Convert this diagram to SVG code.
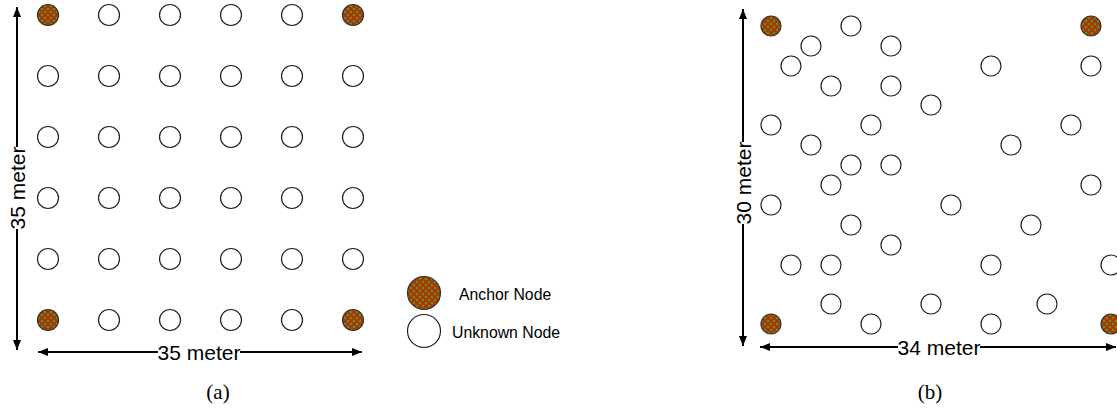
<svg xmlns="http://www.w3.org/2000/svg" width="1117" height="416" viewBox="0 0 1117 416">
<style>
.u{fill:#fff;stroke:#222;stroke-width:1.2}
.a{fill:url(#hatch);stroke:#333;stroke-width:1.2}
.ar{stroke:#000;stroke-width:2;fill:none;marker-start:url(#ah);marker-end:url(#ah)}
.lbl{font-family:"Liberation Sans",Arial,sans-serif;font-size:21px;fill:#000;text-anchor:middle;dominant-baseline:central}
.leg{font-family:"Liberation Sans",Arial,sans-serif;font-size:15.8px;fill:#000}
.cap{font-family:"Liberation Serif","Times New Roman",serif;font-size:21px;fill:#000;text-anchor:middle}
.bg{fill:#fff}
</style>
<defs>
<pattern id="hatch" patternUnits="userSpaceOnUse" width="6" height="6">
<rect width="6" height="6" fill="#7d5c00"/>
<path d="M0,0L6,6M6,0L0,6" stroke="#b52a14" stroke-width="1.1"/>
<circle cx="3" cy="0" r="0.9" fill="#7a9a18"/>
<circle cx="3" cy="6" r="0.9" fill="#7a9a18"/>
<circle cx="0" cy="3" r="0.9" fill="#7a9a18"/>
<circle cx="6" cy="3" r="0.9" fill="#7a9a18"/>
</pattern>
<marker id="ah" markerUnits="userSpaceOnUse" markerWidth="11" markerHeight="9" refX="10" refY="4" orient="auto-start-reverse" viewBox="0 0 11 9">
<path d="M0,0L10,4L0,8z" fill="#000"/>
</marker>
</defs>
<g id="connectors">
<line class="ar" x1="17" y1="350" x2="17" y2="7"/>
<line class="ar" x1="38" y1="352" x2="362" y2="352"/>
<line class="ar" x1="743" y1="346" x2="743" y2="9"/>
<line class="ar" x1="760" y1="347" x2="1116" y2="347"/>
</g>
<g id="labels">
<rect class="bg" x="158" y="340" width="82" height="24"/>
<text class="lbl" x="199" y="352">35 meter</text>
<rect class="bg" x="5" y="147" width="24" height="82"/>
<text class="lbl" transform="rotate(-90 17 188)" x="17" y="188">35 meter</text>
<rect class="bg" x="898" y="335" width="82" height="24"/>
<text class="lbl" x="939" y="347">34 meter</text>
<rect class="bg" x="731" y="142" width="24" height="82"/>
<text class="lbl" transform="rotate(-90 743 183)" x="743" y="183">30 meter</text>
<text class="cap" x="218" y="399">(a)</text>
<text class="cap" x="930" y="399">(b)</text>
</g>
<g id="grid-a">
<g id="a-r1"><circle class="a" cx="48" cy="15" r="10.5"/><circle class="u" cx="109" cy="15" r="10.5"/><circle class="u" cx="170" cy="15" r="10.5"/><circle class="u" cx="231" cy="15" r="10.5"/><circle class="u" cx="292" cy="15" r="10.5"/><circle class="a" cx="353" cy="15" r="10.5"/></g>
<g id="a-r2"><circle class="u" cx="48" cy="76" r="10.5"/><circle class="u" cx="109" cy="76" r="10.5"/><circle class="u" cx="170" cy="76" r="10.5"/><circle class="u" cx="231" cy="76" r="10.5"/><circle class="u" cx="292" cy="76" r="10.5"/><circle class="u" cx="353" cy="76" r="10.5"/></g>
<g id="a-r3"><circle class="u" cx="48" cy="137" r="10.5"/><circle class="u" cx="109" cy="137" r="10.5"/><circle class="u" cx="170" cy="137" r="10.5"/><circle class="u" cx="231" cy="137" r="10.5"/><circle class="u" cx="292" cy="137" r="10.5"/><circle class="u" cx="353" cy="137" r="10.5"/></g>
<g id="a-r4"><circle class="u" cx="48" cy="198" r="10.5"/><circle class="u" cx="109" cy="198" r="10.5"/><circle class="u" cx="170" cy="198" r="10.5"/><circle class="u" cx="231" cy="198" r="10.5"/><circle class="u" cx="292" cy="198" r="10.5"/><circle class="u" cx="353" cy="198" r="10.5"/></g>
<g id="a-r5"><circle class="u" cx="48" cy="259" r="10.5"/><circle class="u" cx="109" cy="259" r="10.5"/><circle class="u" cx="170" cy="259" r="10.5"/><circle class="u" cx="231" cy="259" r="10.5"/><circle class="u" cx="292" cy="259" r="10.5"/><circle class="u" cx="353" cy="259" r="10.5"/></g>
<g id="a-r6"><circle class="a" cx="48" cy="320" r="10.5"/><circle class="u" cx="109" cy="320" r="10.5"/><circle class="u" cx="170" cy="320" r="10.5"/><circle class="u" cx="231" cy="320" r="10.5"/><circle class="u" cx="292" cy="320" r="10.5"/><circle class="a" cx="353" cy="320" r="10.5"/></g>
</g>
<g id="legend">
<g id="legend-anchor"><circle class="a" cx="424" cy="293" r="16.5"/><text class="leg" x="459" y="300">Anchor Node</text></g>
<g id="legend-unknown"><circle class="u" cx="424" cy="331" r="16.5"/><text class="leg" x="452" y="338">Unknown Node</text></g>
</g>
<g id="random-b">
<circle class="a" cx="771" cy="26" r="10"/>
<circle class="u" cx="851" cy="26" r="10"/>
<circle class="a" cx="1091" cy="26" r="10"/>
<circle class="u" cx="811" cy="46" r="10"/>
<circle class="u" cx="891" cy="46" r="10"/>
<circle class="u" cx="791" cy="66" r="10"/>
<circle class="u" cx="991" cy="66" r="10"/>
<circle class="u" cx="1091" cy="66" r="10"/>
<circle class="u" cx="831" cy="86" r="10"/>
<circle class="u" cx="891" cy="86" r="10"/>
<circle class="u" cx="931" cy="105" r="10"/>
<circle class="u" cx="771" cy="125" r="10"/>
<circle class="u" cx="871" cy="125" r="10"/>
<circle class="u" cx="1071" cy="125" r="10"/>
<circle class="u" cx="811" cy="145" r="10"/>
<circle class="u" cx="1011" cy="145" r="10"/>
<circle class="u" cx="851" cy="165" r="10"/>
<circle class="u" cx="891" cy="165" r="10"/>
<circle class="u" cx="831" cy="185" r="10"/>
<circle class="u" cx="1091" cy="185" r="10"/>
<circle class="u" cx="771" cy="205" r="10"/>
<circle class="u" cx="951" cy="205" r="10"/>
<circle class="u" cx="851" cy="225" r="10"/>
<circle class="u" cx="1031" cy="225" r="10"/>
<circle class="u" cx="891" cy="245" r="10"/>
<circle class="u" cx="791" cy="265" r="10"/>
<circle class="u" cx="831" cy="265" r="10"/>
<circle class="u" cx="991" cy="265" r="10"/>
<circle class="u" cx="1111" cy="265" r="10"/>
<circle class="u" cx="831" cy="304" r="10"/>
<circle class="u" cx="931" cy="304" r="10"/>
<circle class="u" cx="1047" cy="304" r="10"/>
<circle class="a" cx="771" cy="324" r="10"/>
<circle class="u" cx="871" cy="324" r="10"/>
<circle class="u" cx="991" cy="324" r="10"/>
<circle class="a" cx="1111" cy="324" r="10"/>
</g>
</svg>
